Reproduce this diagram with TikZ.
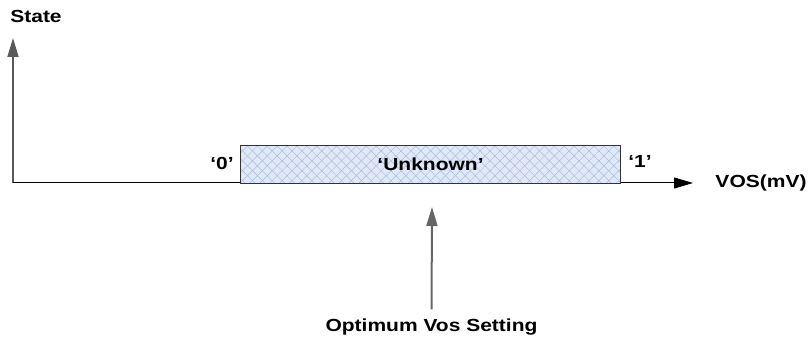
\documentclass[tikz,border=0pt]{standalone}
\usepackage{fontspec}
\setmainfont{Liberation Sans}[FakeStretch=1.2]
\usetikzlibrary{arrows.meta, patterns.meta}

\definecolor{boxfill}{RGB}{226,233,246}
\definecolor{hatch}{RGB}{168,188,226}

\begin{document}
\begin{tikzpicture}[x=1pt, y=-1pt, >={Triangle[length=19pt,width=11pt]},
  font=\fontsize{17.5}{20}\selectfont\bfseries]

\useasboundingbox (0,0) rectangle (809,344);

% Axes
\coordinate (origin) at (13,183);
\coordinate (ytip) at (13,38);
\coordinate (xtip) at (693,183);
\draw[->, line width=1.6pt, black!65] (origin) -- (ytip);
\draw[->, line width=1pt] (origin) -- (xtip);
\node (state) at (36,16) {State};
\node (vos) at (761,183) {VOS(mV)};

% Unknown region (hatched)
\node[minimum width=379pt, minimum height=37pt, inner sep=0pt, fill=boxfill,
  postaction={pattern={Lines[angle=45,distance=7pt,line width=0.5pt]}, pattern color=hatch},
  postaction={pattern={Lines[angle=-45,distance=7pt,line width=0.5pt]}, pattern color=hatch}]
  (unknown) at (430.5,164.5) {};
\draw[line width=1pt, black!80] (unknown.south west) rectangle (unknown.north east);
\node at (unknown.center) {‘Unknown’};

% State labels
\node (zero) at (222,163) {‘0’};
\node (one) at (640,161) {‘1’};

% Optimum setting
\node (opt) at (431.5,327) {Optimum Vos Setting};
\coordinate (opttip) at (432,207);
\draw[->, line width=2pt, black!60, shorten <=6pt] (opt.north) -- (opttip);

\end{tikzpicture}
\end{document}
